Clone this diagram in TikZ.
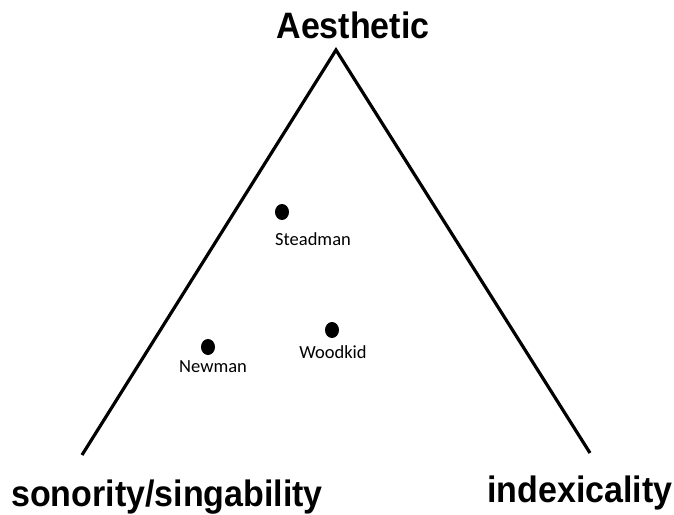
\documentclass[tikz,border=0pt]{standalone}
\usepackage{fontspec}
\setmainfont{Liberation Sans}
\newfontfamily\calib{Carlito}
\usetikzlibrary{shapes.geometric}
\newcommand{\tallbold}[1]{\scalebox{1}[1.08]{\fontsize{34}{34}\selectfont\bfseries #1}}
\begin{document}
\begin{tikzpicture}[x=1pt,y=-1pt,
  corner/.style={inner sep=0pt, anchor=base},
  dotmark/.style={ellipse, fill=black, minimum width=14pt, minimum height=16pt, inner sep=0pt},
  who/.style={font=\calib\fontsize{18.5}{18.5}\selectfont, inner sep=0pt, anchor=base}]
\useasboundingbox (0,0) rectangle (674,514);
\coordinate (top) at (336,50);
\coordinate (bl) at (82,455);
\coordinate (br) at (590,453);
\draw[line width=3.2pt, line join=miter] (bl) -- (top) -- (br);
\node[corner] (aes) at (353,38) {\tallbold{Aesthetic}};
\node[corner] (son) at (167,506) {\tallbold{sonority/singability}};
\node[corner] (idx) at (580,502) {\tallbold{indexicality}};
\node[dotmark] (d1) at (282,212) {};
\node[dotmark] (d2) at (208,347) {};
\node[dotmark] (d3) at (332,330) {};
\node[who] (l1) at (313,245) {Steadman};
\node[who] (l2) at (213,372) {Newman};
\node[who] (l3) at (333,358) {Woodkid};
\end{tikzpicture}
\end{document}
